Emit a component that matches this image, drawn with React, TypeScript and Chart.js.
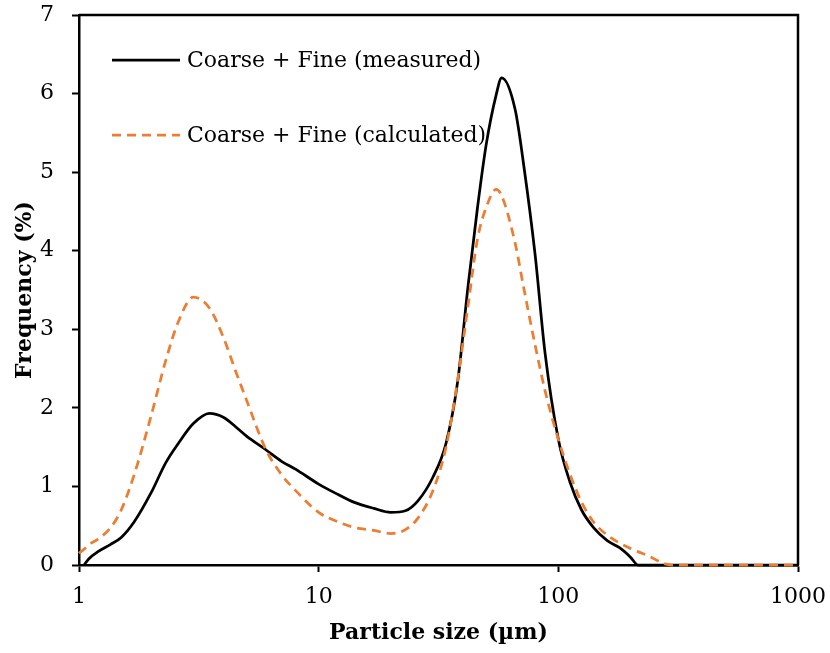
import { useEffect, useRef } from "react";
import { Chart, registerables } from "chart.js";

Chart.register(...registerables);

// Particle size bins (µm) shared by both distributions
const sizes = [
  1, 1.05, 1.1, 1.2, 1.35, 1.5, 1.7, 2, 2.3, 2.6, 3, 3.5, 4, 4.5, 5, 6, 7, 8,
  10, 12, 14, 17, 20, 23, 26, 30, 34, 38, 42, 46, 50, 55, 58, 66, 72, 80, 88,
  100, 112, 125, 140, 160, 180, 200, 215, 240, 275, 300, 400, 600, 1000,
];

// Frequency (%) — measured blend
const measured = [
  null, 0, 0.08, 0.17, 0.26, 0.35, 0.55, 0.92, 1.3, 1.55, 1.8, 1.93, 1.88, 1.76,
  1.64, 1.47, 1.32, 1.22, 1.03, 0.9, 0.8, 0.72, 0.67, 0.69, 0.82, 1.12, 1.55,
  2.33, 3.55, 4.55, 5.35, 5.98, 6.2, 5.8, 5.05, 3.95, 2.7, 1.6, 1.05, 0.7, 0.48,
  0.31, 0.22, 0.1, 0, 0, 0, 0, 0, 0, 0,
];

// Frequency (%) — calculated blend
const calculated = [
  0.15, 0.2, 0.26, 0.33, 0.47, 0.7, 1.15, 1.9, 2.6, 3.1, 3.41, 3.27, 2.9, 2.47,
  2.1, 1.48, 1.15, 0.95, 0.67, 0.55, 0.48, 0.44, 0.4, 0.45, 0.6, 0.95, 1.5,
  2.35, 3.3, 4.15, 4.55, 4.78, 4.7, 4.1, 3.5, 2.8, 2.22, 1.6, 1.15, 0.8, 0.55,
  0.38, 0.28, 0.21, 0.17, 0.11, 0.02, 0, 0, 0, 0,
];

const seriesLabels = ["Coarse + Fine (measured)", "Coarse + Fine (calculated)"];
const xTickValues = [1, 10, 100, 1000];
const yTickValues = [0, 1, 2, 3, 4, 5, 6, 7];

const FONT = "'DejaVu Serif', serif";

const frameAndLegend = {
  id: "frameAndLegend",
  afterDraw(chart: any) {
    const { ctx, chartArea } = chart;
    ctx.save();
    // top and right edges of the plot box
    ctx.strokeStyle = "#000";
    ctx.lineWidth = 2.5;
    ctx.setLineDash([]);
    ctx.beginPath();
    ctx.moveTo(chartArea.left, chartArea.top);
    ctx.lineTo(chartArea.right, chartArea.top);
    ctx.lineTo(chartArea.right, chartArea.bottom);
    ctx.stroke();

    // legend inside the plot, upper left
    const rows = [60, 135];
    chart.data.datasets.forEach((ds: any, i: number) => {
      const y = rows[i];
      ctx.strokeStyle = ds.borderColor;
      ctx.lineWidth = ds.borderWidth;
      ctx.setLineDash(ds.borderDash || []);
      ctx.beginPath();
      ctx.moveTo(112, y);
      ctx.lineTo(180, y);
      ctx.stroke();
      ctx.setLineDash([]);
      ctx.fillStyle = "#000";
      ctx.font = `22px ${FONT}`;
      ctx.textBaseline = "middle";
      ctx.textAlign = "left";
      ctx.fillText(ds.label, 187, y + 1);
    });
    ctx.restore();
  },
};

export default function App() {
  const canvasRef = useRef<HTMLCanvasElement | null>(null);

  useEffect(() => {
    if (!canvasRef.current) return;
    const chart = new Chart(canvasRef.current, {
      type: "line",
      data: {
        datasets: [
          {
            label: seriesLabels[0],
            data: sizes.map((s, i) => ({ x: s, y: measured[i] })),
            borderColor: "#000000",
            borderWidth: 2.75,
            pointRadius: 0,
            cubicInterpolationMode: "monotone",
            fill: false,
            order: 2,
            clip: false,
          },
          {
            label: seriesLabels[1],
            data: sizes.map((s, i) => ({ x: s, y: calculated[i] })),
            borderColor: "#ED7D31",
            borderWidth: 2.75,
            borderDash: [9, 6],
            pointRadius: 0,
            cubicInterpolationMode: "monotone",
            fill: false,
            order: 1,
            clip: false,
          },
        ] as any,
      },
      plugins: [frameAndLegend],
      options: {
        animation: false,
        responsive: true,
        maintainAspectRatio: false,
        parsing: false as any,
        layout: { padding: { top: 15, right: 32, left: 0, bottom: 0 } },
        plugins: {
          legend: { display: false },
          tooltip: { enabled: false },
        },
        scales: {
          x: {
            type: "logarithmic",
            min: 1,
            max: 1000,
            afterBuildTicks: (scale: any) => {
              scale.ticks = xTickValues.map((v) => ({ value: v }));
            },
            afterFit: (scale: any) => {
              scale.height = 88;
              scale.paddingLeft = 0;
              scale.paddingRight = 0;
            },
            ticks: {
              autoSkip: false,
              maxRotation: 0,
              color: "#000",
              font: { family: FONT, size: 22 },
              padding: 12,
              callback: (v: any) => String(v),
            },
            grid: {
              drawOnChartArea: false,
              drawTicks: true,
              tickLength: 7,
              tickWidth: 2,
              tickColor: "#000",
            },
            border: { color: "#000", width: 2.5 },
            title: {
              display: true,
              text: "Particle size (µm)",
              color: "#000",
              font: { family: FONT, size: 22, weight: "bold" },
              padding: { top: 4, bottom: 7 },
            },
          },
          y: {
            type: "linear",
            min: 0,
            max: 7,
            afterBuildTicks: (scale: any) => {
              scale.ticks = yTickValues.map((v) => ({ value: v }));
            },
            afterFit: (scale: any) => {
              scale.width = 79;
              scale.paddingTop = 0;
              scale.paddingBottom = 0;
            },
            ticks: {
              color: "#000",
              font: { family: FONT, size: 22 },
              padding: 18,
            },
            grid: {
              drawOnChartArea: false,
              drawTicks: true,
              tickLength: 7,
              tickWidth: 2,
              tickColor: "#000",
            },
            border: { color: "#000", width: 2.5 },
            title: {
              display: true,
              text: "Frequency (%)",
              color: "#000",
              font: { family: FONT, size: 22, weight: "bold" },
              padding: { top: 12, bottom: 0 },
            },
          },
        },
      } as any,
    });
    return () => chart.destroy();
  }, []);

  return (
    <div
      style={{
        position: "absolute",
        left: 0,
        top: 0,
        width: 830,
        height: 653,
        background: "#fff",
      }}
    >
      <canvas ref={canvasRef} />
    </div>
  );
}
